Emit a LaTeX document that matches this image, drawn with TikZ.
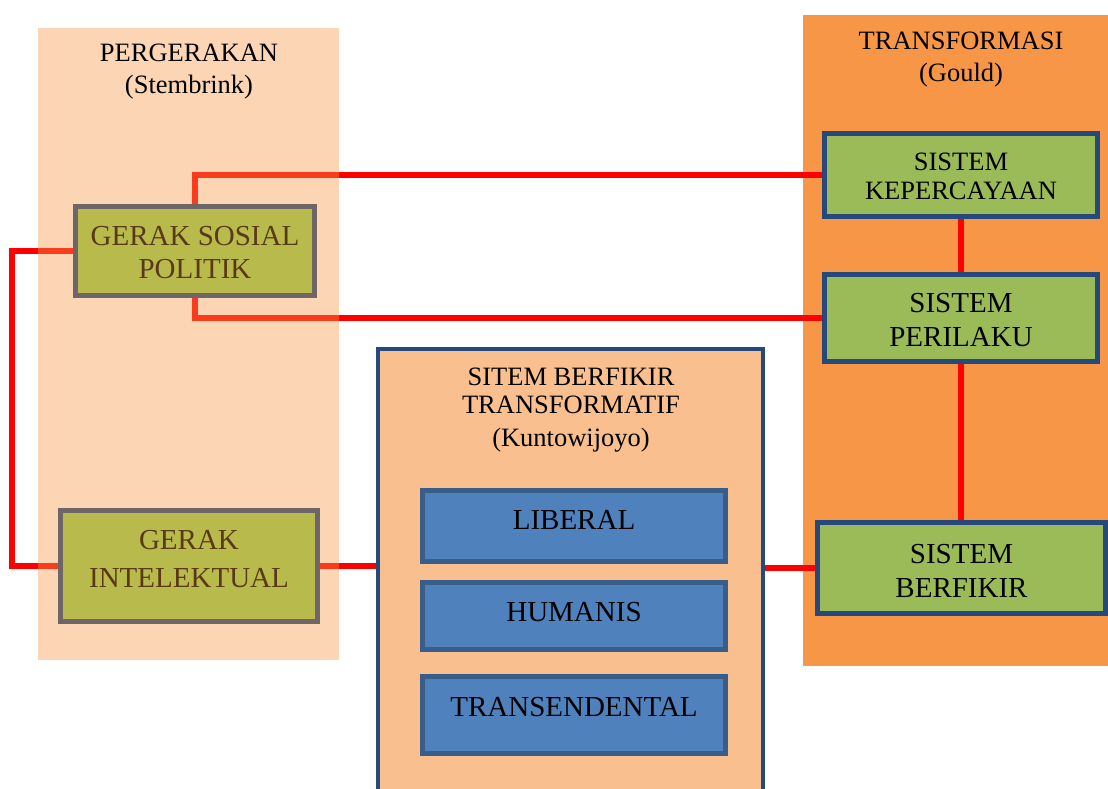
\documentclass[tikz,border=0pt]{standalone}
\usepackage{fontspec}
\setmainfont{Liberation Serif}
\definecolor{accorange}{HTML}{F79646}
\definecolor{midfill}{HTML}{F9BF8F}
\definecolor{darkblue}{HTML}{25497C}
\definecolor{olive}{HTML}{B8BA4B}
\definecolor{greyedge}{HTML}{6D6568}
\definecolor{brownt}{HTML}{5A3A16}
\definecolor{greenbox}{HTML}{9BBB59}
\definecolor{bluebox}{HTML}{4F81BD}
\definecolor{blueedge}{HTML}{385D8A}
\definecolor{linered}{HTML}{FF0000}
\pgfdeclarelayer{bglayer}
\pgfdeclarelayer{tintlayer}
\pgfsetlayers{bglayer,tintlayer,main}
\tikzset{
  link/.style={draw=linered, line width=5.5},
  olivebox/.style={draw=greyedge, fill=olive, line width=5, inner sep=0},
  greenbx/.style={draw=darkblue, fill=greenbox, line width=5, inner sep=0},
  bluebx/.style={draw=blueedge, fill=bluebox, line width=5, inner sep=0},
  midbox/.style={draw=darkblue, fill=midfill, line width=4, inner sep=0},
  lbl/.style={inner sep=0, align=center},
  ttl/.style={inner sep=0, align=center, font=\fontsize{26.5}{32}\selectfont},
}
\begin{document}
\begin{tikzpicture}[x=1pt,y=-1pt]
\useasboundingbox (0,0) rectangle (1108,789);
% boxes
\node[midbox, minimum width=385, minimum height=456] (mid) at (570.5,577) {};
\node[olivebox, minimum width=239, minimum height=89] (gsp) at (195,251) {};
\node[olivebox, minimum width=257, minimum height=111] (gi) at (189,566) {};
\node[greenbx, minimum width=273, minimum height=83] (sk) at (961,175) {};
\node[greenbx, minimum width=273, minimum height=87] (sp) at (961,318) {};
\node[greenbx, minimum width=288, minimum height=91] (sb) at (961.5,568) {};
\node[bluebx, minimum width=303, minimum height=71] (lib) at (574,526) {};
\node[bluebx, minimum width=303, minimum height=67] (hum) at (574,616) {};
\node[bluebx, minimum width=303, minimum height=77] (tra) at (574,715) {};
% box texts
\node[lbl, text=brownt, font=\fontsize{29}{33}\selectfont] (gspt) at (195,253) {GERAK SOSIAL\\POLITIK};
\node[lbl, text=brownt, font=\fontsize{29}{38}\selectfont] (git) at (189,559.5) {GERAK\\INTELEKTUAL};
\node[lbl, font=\fontsize{26.5}{29}\selectfont] (skt) at (961,176) {SISTEM\\KEPERCAYAAN};
\node[lbl, font=\fontsize{29}{34}\selectfont] (spt) at (961,320) {SISTEM\\PERILAKU};
\node[lbl, font=\fontsize{29}{34}\selectfont] (sbt) at (961.5,570.5) {SISTEM\\BERFIKIR};
\node[lbl, font=\fontsize{29}{34}\selectfont] (libt) at (574,520) {LIBERAL};
\node[lbl, font=\fontsize{29}{34}\selectfont] (humt) at (574,612) {HUMANIS};
\node[lbl, font=\fontsize{29}{34}\selectfont] (trat) at (574,707) {TRANSENDENTAL};
% titles
\node[ttl] (pt) at (189,72) {PERGERAKAN\\(Stembrink)};
\node[ttl] (tt) at (961,60) {TRANSFORMASI\\(Gould)};
\node[ttl, font=\fontsize{26.5}{28}\selectfont] (mt) at (571,410) {SITEM BERFIKIR\\TRANSFORMATIF\\[5pt](Kuntowijoyo)};
% connectors and right background underneath
\begin{pgfonlayer}{bglayer}
\fill[accorange] (803,15) rectangle (1108,666);
\coordinate (lx) at (12,400);
\draw[link] (gsp.north) |- (sk.west);
\draw[link] (gsp.south) |- (sp.west);
\draw[link] (gsp.west) -| (lx) |- (gi.west);
\draw[link] (gi.east) -- (gi.east -| mid.west);
\draw[link] (mid.east |- sb.west) -- (sb.west);
\draw[link] (sk.south) -- (sp.north);
\draw[link] (sp.south) -- (sp.south |- sb.north);
\end{pgfonlayer}
% translucent left background over the connectors
\begin{pgfonlayer}{tintlayer}
\fill[accorange, fill opacity=0.4] (38,28) rectangle (339,660);
\end{pgfonlayer}
\end{tikzpicture}
\end{document}
